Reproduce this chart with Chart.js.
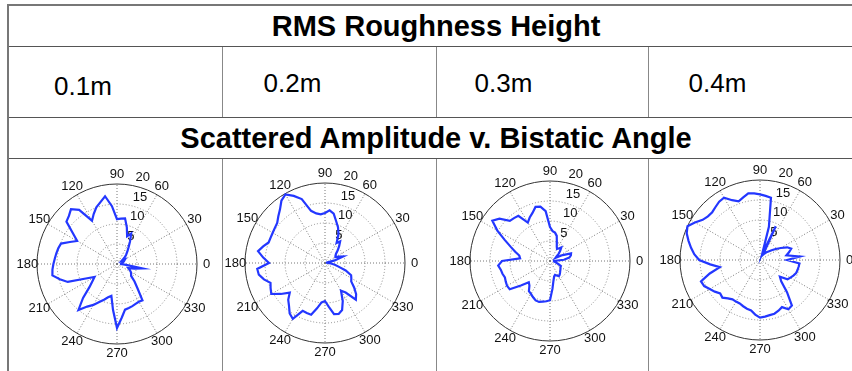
<!DOCTYPE html>
<html>
<head>
<meta charset="utf-8">
<script src="https://cdn.jsdelivr.net/npm/chart.js@4.4.1/dist/chart.umd.min.js"></script>
<style>
  body { margin: 0; background: #fff; overflow: hidden; width: 852px; height: 371px; position: relative; }
  table {
    position: absolute; left: 7px; top: 4px;
    border-collapse: collapse; table-layout: fixed; width: 880px;
    border: 2px solid #777;
    font-family: "Liberation Sans", Arial, sans-serif; color: #000;
  }
  td, th { border: 1px solid #555; padding: 0; }
  th { font-size: 29px; font-weight: bold; height: 40px; line-height: 33px; text-align: center; }
  .vals td { height: 70px; font-size: 26px; line-height: 30px; vertical-align: top; border-left-color: #888; border-right-color: #888; }
  .vals div { white-space: nowrap; }
  .plots td { height: 260px; border-left-color: #888; border-right-color: #888; }
  .polar { position: absolute; }
</style>
</head>
<body>
<table>
  <colgroup><col style="width:214px"><col style="width:214px"><col style="width:212px"><col style="width:240px"></colgroup>
  <tr><th colspan="4" style="padding-right:24px">RMS Roughness Height</th></tr>
  <tr class="vals">
    <td><div style="padding:24px 0 0 45px">0.1m</div></td>
    <td><div style="padding:21px 0 0 41px">0.2m</div></td>
    <td><div style="padding:21px 0 0 38px">0.3m</div></td>
    <td><div style="padding:21px 0 0 40px">0.4m</div></td>
  </tr>
  <tr><th colspan="4" style="padding-right:24px">Scattered Amplitude v. Bistatic Angle</th></tr>
  <tr class="plots"><td></td><td></td><td></td><td></td></tr>
</table>

<canvas id="p1" class="polar" width="220" height="220" style="left:7px;top:154px"></canvas>
<canvas id="p2" class="polar" width="220" height="220" style="left:215px;top:153px"></canvas>
<canvas id="p3" class="polar" width="220" height="220" style="left:440px;top:151px"></canvas>
<canvas id="p4" class="polar" width="220" height="220" style="left:650px;top:150px"></canvas>

<script>
// bistatic angle (deg), counter-clockwise from the right
const angles = [0, 5, 10, 15, 20, 25, 30, 35, 40, 45, 50, 55, 60, 65, 70, 75, 80, 85,
  90, 95, 100, 105, 110, 115, 120, 125, 130, 135, 140, 145, 150, 155, 160, 165, 170, 175,
  180, 185, 190, 195, 200, 205, 210, 215, 220, 225, 230, 235, 240, 245, 250, 255, 260, 265,
  270, 275, 280, 285, 290, 295, 300, 305, 310, 315, 320, 325, 330, 335, 340, 345, 350, 355];

// scattered amplitude for each roughness height
const amp01 = [1.0, 1.0, 1.2, 1.5, 1.8, 2.0, 2.3, 1.5, 2.4, 3.2, 4.0, 5.0, 6.5, 8.4, 7.4, 9.5, 11.6, 11.4,
  11.2, 14.5, 17.2, 16.0, 15.1, 13.8, 12.5, 16.5, 17.9, 17.0, 16.5, 13.5, 11.5, 13.0, 14.9, 15.2, 15.4, 15.6,
  15.9, 16.2, 16.4, 14.8, 13.1, 8.6, 6.5, 7.5, 9.0, 12.0, 15.0, 13.0, 11.8, 10.5, 9.5, 8.6, 8.1, 11.5,
  16.0, 13.5, 11.6, 11.4, 11.2, 11.0, 10.9, 11.1, 8.0, 6.2, 4.6, 4.3, 4.0, 3.5, 3.0, 4.5, 6.4, 2.0];

const amp02 = [0.8, 0.5, 0.5, 2.5, 4.8, 3.8, 3.0, 3.2, 3.6, 4.5, 5.5, 6.6, 5.8, 8.0, 9.5, 10.8, 12.5, 13.2,
  12.5, 12.2, 12.6, 13.5, 17.0, 18.5, 19.8, 19.0, 17.5, 16.5, 15.6, 15.3, 15.1, 15.0, 15.0, 16.0, 17.0, 15.5,
  14.0, 17.0, 16.8, 15.8, 14.5, 15.0, 15.5, 13.5, 11.5, 13.0, 14.0, 15.4, 16.1, 13.2, 13.3, 13.4, 11.5, 9.9,
  9.5, 11.0, 13.0, 13.2, 12.5, 10.5, 8.0, 9.0, 12.0, 11.0, 9.5, 8.0, 7.6, 7.2, 5.5, 3.5, 2.5, 1.5];

const amp03 = [1.0, 3.5, 4.9, 5.4, 5.6, 3.5, 1.6, 2.0, 2.8, 3.6, 4.4, 3.8, 3.5, 4.0, 5.0, 6.5, 7.2, 7.5,
  8.5, 12.5, 13.8, 14.0, 12.8, 12.0, 11.1, 13.8, 14.0, 14.2, 16.5, 17.6, 15.2, 12.5, 10.5, 9.0, 7.8, 7.5,
  12.0, 13.0, 12.5, 12.3, 12.0, 12.2, 12.4, 12.3, 9.5, 7.5, 8.0, 9.2, 9.5, 10.0, 10.5, 10.6, 10.3, 10.1,
  9.8, 7.0, 5.0, 4.0, 3.7, 4.0, 4.4, 4.2, 3.9, 3.6, 3.4, 3.2, 3.0, 3.0, 2.2, 1.6, 1.2, 1.0];

const amp04 = [6.8, 10.0, 6.7, 7.5, 8.3, 7.5, 6.0, 4.8, 3.8, 3.0, 2.5, 2.0, 1.5, 9.3, 1.5, 8.6, 15.8, 16.1,
  16.4, 16.7, 16.9, 16.2, 15.6, 16.5, 18.0, 17.8, 17.3, 16.9, 17.0, 17.5, 18.8, 20.0, 19.5, 18.5, 17.5, 16.5,
  15.2, 12.5, 10.2, 13.0, 15.7, 15.4, 14.5, 13.8, 13.0, 13.3, 12.5, 12.0, 12.0, 12.0, 12.3, 12.6, 12.8, 13.7,
  14.4, 14.2, 14.0, 13.9, 13.5, 13.0, 14.2, 13.9, 10.5, 7.5, 6.5, 8.4, 8.8, 9.2, 9.6, 9.7, 9.8, 9.9];

const spokeLabels = [0, 30, 60, 90, 120, 150, 180, 210, 240, 270, 300, 330];
const ringTicks = [5, 10, 15, 20];
const rMax = 20;

// radar runs clockwise from the top, so start at 90 and walk down
function toRadar(values) {
  const labels = [], data = [];
  const start = angles.indexOf(90);
  for (let k = 0; k < angles.length; k++) {
    const i = (start - k + angles.length) % angles.length;
    labels.push(angles[i]);
    data.push(values[i]);
  }
  return { labels, data };
}

const polarLabels = {
  id: "polarLabels",
  beforeDatasetsDraw(chart) {
    const r = chart.scales.r;
    const ctx = chart.ctx;
    const R = r.getDistanceFromCenterForValue(rMax);
    ctx.save();
    ctx.fillStyle = "#111";
    ctx.font = '13px "Liberation Sans", Arial, sans-serif';
    ctx.textAlign = "center";
    ctx.textBaseline = "middle";
    spokeLabels.forEach((a) => {
      const t = (a * Math.PI) / 180;
      ctx.fillText(String(a), r.xCenter + 1.12 * R * Math.cos(t), r.yCenter - 1.12 * R * Math.sin(t));
    });
    ctx.textAlign = "left";
    ctx.textBaseline = "bottom";
    const t82 = (82 * Math.PI) / 180;
    ringTicks.forEach((v) => {
      const d = r.getDistanceFromCenterForValue(v + 0.25);
      ctx.fillText("  " + v, r.xCenter + d * Math.cos(t82), r.yCenter - d * Math.sin(t82));
    });
    ctx.restore();
  },
};

function drawPolar(id, values) {
  const rd = toRadar(values);
  new Chart(document.getElementById(id), {
    type: "radar",
    data: {
      labels: rd.labels,
      datasets: [{
        data: rd.data,
        borderColor: "rgb(35,55,255)",
        borderWidth: 2.2,
        fill: false,
        pointRadius: 0,
        tension: 0,
      }],
    },
    options: {
      responsive: false,
      animation: false,
      devicePixelRatio: 1,
      layout: { padding: 30 },
      plugins: { legend: { display: false }, tooltip: { enabled: false } },
      scales: {
        r: {
          min: 0,
          max: rMax,
          startAngle: 0,
          ticks: { display: false, stepSize: 5 },
          pointLabels: { display: false },
          grid: {
            circular: true,
            color: (c) => (c.tick && c.tick.value === rMax ? "#333" : "#888"),
            lineWidth: 1,
          },
          border: { dash: (c) => (c.tick && c.tick.value === rMax ? [] : [1, 2]) },
          angleLines: {
            color: "#777",
            lineWidth: (c) => (c.label % 30 === 0 ? 1 : 0),
            borderDash: [1, 2],
          },
        },
      },
    },
    plugins: [polarLabels],
  });
}

drawPolar("p1", amp01);
drawPolar("p2", amp02);
drawPolar("p3", amp03);
drawPolar("p4", amp04);
</script>
</body>
</html>
